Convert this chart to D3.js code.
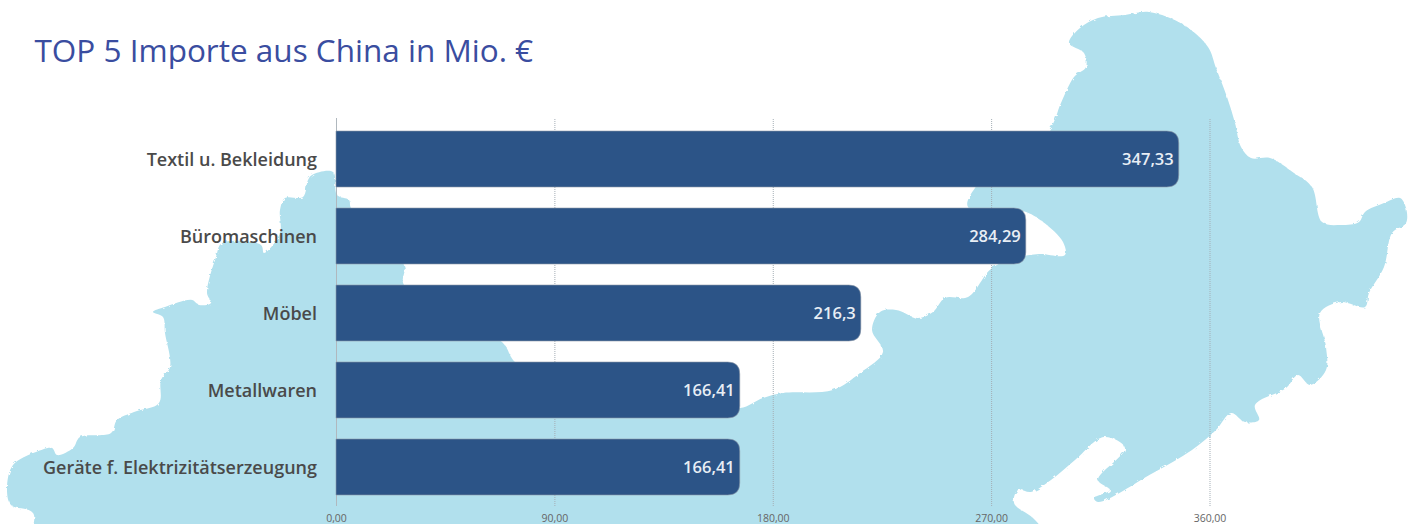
<!DOCTYPE html>
<html lang="de"><head><meta charset="utf-8">
<script src="https://cdnjs.cloudflare.com/ajax/libs/d3/7.8.5/d3.min.js"></script>
<style>
html,body{margin:0;padding:0;background:#fff}
svg{display:block}
text{font-family:"Open Sans",sans-serif}
</style></head><body>
<svg id="c" width="1413" height="524"></svg>
<script>
const titleText = "TOP 5 Importe aus China in Mio. €";
const categories = ["Textil u. Bekleidung","Büromaschinen","Möbel","Metallwaren","Geräte f. Elektrizitätserzeugung"];
const values = [347.33,284.29,216.3,166.41,166.41];
const tickValues = [0,90,180,270,360];
// decorative background map silhouette
const mapOutline = [[34,560],[33,513],[11,505],[7,488],[13,465],[36,452],[52,448],[57,455],[73,448],[80,437],[111,433],[117,420],[134,412],[159,403],[161,380],[170,367],[165,333],[163,317],[153,312],[165,307],[192,300],[199,305],[211,303],[207,293],[216,257],[222,243],[261,245],[264,253],[280,233],[280,210],[285,198],[303,197],[308,180],[312,175],[333,172],[337,195],[349,200],[351,208],[404,265],[404,285],[502,342],[515,362],[560,385],[700,400],[740,408],[763,398],[783,393],[833,390],[860,373],[883,352],[872,330],[880,312],[896,310],[918,318],[933,312],[945,298],[968,297],[992,268],[1020,257],[1039,254],[1065,255],[1063,242],[1043,222],[1023,211],[968,207],[975,188],[1049,130],[1061,103],[1074,77],[1086,67],[1084,53],[1069,43],[1080,28],[1098,18],[1125,15],[1149,12],[1184,25],[1208,47],[1216,68],[1227,97],[1235,123],[1241,147],[1251,158],[1270,158],[1294,173],[1312,187],[1322,222],[1341,225],[1359,222],[1365,212],[1384,203],[1400,198],[1406,208],[1406,223],[1392,233],[1384,267],[1369,293],[1365,307],[1341,302],[1320,313],[1326,347],[1326,370],[1310,385],[1298,375],[1286,388],[1255,405],[1259,420],[1245,422],[1231,413],[1216,430],[1192,450],[1153,473],[1098,502],[1094,498],[1110,490],[1098,480],[1125,448],[1104,437],[1075,460],[1051,480],[1031,492],[1018,490],[1014,503],[1035,520],[1060,560]];

const svg = d3.select("#c");
const defs = svg.append("defs");
const f = defs.append("filter").attr("id","rough").attr("filterUnits","userSpaceOnUse").attr("x",-20).attr("y",-20).attr("width",1460).attr("height",600);
f.append("feTurbulence").attr("type","fractalNoise").attr("baseFrequency",0.25).attr("numOctaves",2).attr("seed",4).attr("result","n");
f.append("feDisplacementMap").attr("in","SourceGraphic").attr("in2","n").attr("scale",3);

svg.append("path").attr("d",d3.line().curve(d3.curveCatmullRomClosed.alpha(0.5))(mapOutline)).attr("fill","#b1e0ed").attr("filter","url(#rough)");

svg.append("text").attr("x",34.5).attr("y",62).attr("font-size",31.5).attr("fill","#3a4da0").text(titleText);

const x = d3.scaleLinear().domain([0,360]).range([336,1209.5]);
const y = d3.scaleBand().domain(categories).range([120.5,505.5]).paddingInner(21/77).paddingOuter(10.5/77);
const comma = d3.formatLocale({decimal:",",thousands:".",grouping:[3],currency:["","€"]});

const gx = svg.append("g").attr("transform","translate(0,506)")
  .call(d3.axisBottom(x).tickValues(tickValues).tickFormat(comma.format(".2f")).tickSize(-388).tickPadding(9));
gx.select(".domain").remove();
gx.selectAll(".tick line").attr("stroke","#a4aeb5").attr("stroke-dasharray","1,1").attr("stroke-width",1);
gx.selectAll(".tick:first-of-type line").attr("stroke","#b0b8be").attr("stroke-dasharray",null);
gx.selectAll(".tick text").attr("font-size",10.5).attr("font-family",'"Open Sans",sans-serif').attr("fill","#666");

const r = 12;
const barPath = d => {
  const x0=x(0), x1=x(d.v), y0=y(d.c), h=y.bandwidth(), p=d3.path();
  p.moveTo(x0,y0); p.lineTo(x1-r,y0); p.quadraticCurveTo(x1,y0,x1,y0+r);
  p.lineTo(x1,y0+h-r); p.quadraticCurveTo(x1,y0+h,x1-r,y0+h); p.lineTo(x0,y0+h); p.closePath();
  return p.toString();
};
const rows = categories.map((c,i)=>({c,v:values[i]}));
svg.append("g").selectAll("path").data(rows).join("path").attr("d",barPath)
  .attr("fill","#2c5487").attr("stroke","#8d99a8").attr("stroke-width",0.6);

svg.append("g").selectAll("text").data(rows).join("text")
  .attr("x",d=>x(d.v)-5).attr("y",d=>y(d.c)+y.bandwidth()/2+0.5).attr("dy","0.35em").attr("text-anchor","end")
  .attr("font-size",16.5).attr("font-weight",600).attr("fill","#e8eef5")
  .text(d=>String(d.v).replace(".",","));

const gy = svg.append("g").attr("transform","translate(336,1)").call(d3.axisLeft(y).tickSize(0).tickPadding(19));
gy.select(".domain").remove();
gy.selectAll(".tick text").attr("font-size",18).attr("font-weight",600).attr("font-family",'"Open Sans",sans-serif').attr("fill","#4a4a4a");
</script></body></html>
